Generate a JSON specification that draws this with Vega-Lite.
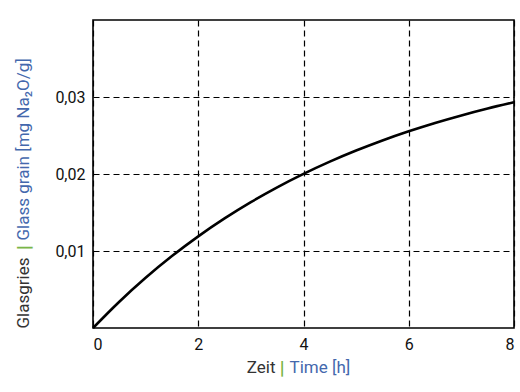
{
  "$schema": "https://vega.github.io/schema/vega-lite/v6.json",
  "autosize": {"type": "none"},
  "width": 421,
  "height": 308,
  "padding": {"left": 93, "top": 20, "right": 6, "bottom": 64},
  "background": "white",
  "datasets": {
    "curve": [
      {"t": 0, "v": 0},
      {"t": 0.5, "v": 0.003415},
      {"t": 1, "v": 0.006519},
      {"t": 1.5, "v": 0.009339},
      {"t": 2, "v": 0.011901},
      {"t": 2.5, "v": 0.014227},
      {"t": 3, "v": 0.016344},
      {"t": 3.5, "v": 0.018266},
      {"t": 4, "v": 0.020013},
      {"t": 4.5, "v": 0.021602},
      {"t": 5, "v": 0.023042},
      {"t": 5.5, "v": 0.024355},
      {"t": 6, "v": 0.025544},
      {"t": 6.5, "v": 0.026629},
      {"t": 7, "v": 0.027612},
      {"t": 7.5, "v": 0.028506},
      {"t": 8, "v": 0.029318}
    ]
  },
  "config": {
    "view": {"stroke": "black", "strokeWidth": 1.6},
    "font": "Roboto",
    "axis": {
      "domain": false,
      "ticks": false,
      "labelFont": "Roboto",
      "labelFontSize": 16,
      "labelColor": "#111111",
      "labelPadding": 8,
      "gridColor": "black",
      "gridDash": [6, 4],
      "gridWidth": 1.2,
      "gridOpacity": 1,
      "titleFont": "Roboto",
      "titleFontSize": 17,
      "titleFontWeight": "normal"
    }
  },
  "layer": [
    {
      "data": {"name": "curve"},
      "mark": {"type": "line", "color": "black", "strokeWidth": 2.6, "interpolate": "monotone"},
      "encoding": {
        "x": {"field": "t", "type": "quantitative", "scale": {"domain": [0, 8], "nice": false},
          "axis": {"orient": "bottom", "values": [0, 2, 4, 6, 8], "format": "d", "labelBaseline": "top",
            "title": "Zeit", "titleColor": "#333333", "titleX": 182, "titleY": 39, "titleAlign": "right", "titleBaseline": "middle"}},
        "y": {"field": "v", "type": "quantitative", "scale": {"domain": [0, 0.04], "nice": false},
          "axis": {"orient": "left", "values": [0.01, 0.02, 0.03], "labelExpr": "replace(format(datum.value, '.2f'), '.', ',')",
            "title": "Glasgries", "titleColor": "#333333", "titleX": -70, "titleY": 308, "titleAngle": -90, "titleAlign": "left", "titleBaseline": "middle"}}
      }
    },
    {
      "data": {"name": "curve"},
      "mark": {"type": "line", "opacity": 0},
      "encoding": {
        "x": {"field": "t", "type": "quantitative",
          "axis": {"orient": "bottom", "labels": false, "grid": false, "title": "|", "titleColor": "#7ab648", "titleFontWeight": "bold", "titleFontSize": 19, "titleX": 188.7, "titleY": 39, "titleAlign": "center", "titleBaseline": "middle"}},
        "y": {"field": "v", "type": "quantitative",
          "axis": {"orient": "left", "labels": false, "grid": false, "title": "|", "titleColor": "#7ab648", "titleFontWeight": "bold", "titleFontSize": 19, "titleX": -70, "titleY": 227, "titleAngle": -90, "titleAlign": "center", "titleBaseline": "middle"}}
      }
    },
    {
      "data": {"name": "curve"},
      "mark": {"type": "line", "opacity": 0},
      "encoding": {
        "x": {"field": "t", "type": "quantitative",
          "axis": {"orient": "bottom", "labels": false, "grid": false, "title": "Time [h]", "titleColor": "#4468ad", "titleX": 196, "titleY": 39, "titleAlign": "left", "titleBaseline": "middle"}},
        "y": {"field": "v", "type": "quantitative",
          "axis": {"orient": "left", "labels": false, "grid": false, "title": "Glass grain [mg Na₂O/g]", "titleColor": "#4468ad", "titleX": -70, "titleY": 220, "titleAngle": -90, "titleAlign": "left", "titleBaseline": "middle"}}
      }
    }
  ],
  "resolve": {"axis": {"x": "independent", "y": "independent"}}
}
